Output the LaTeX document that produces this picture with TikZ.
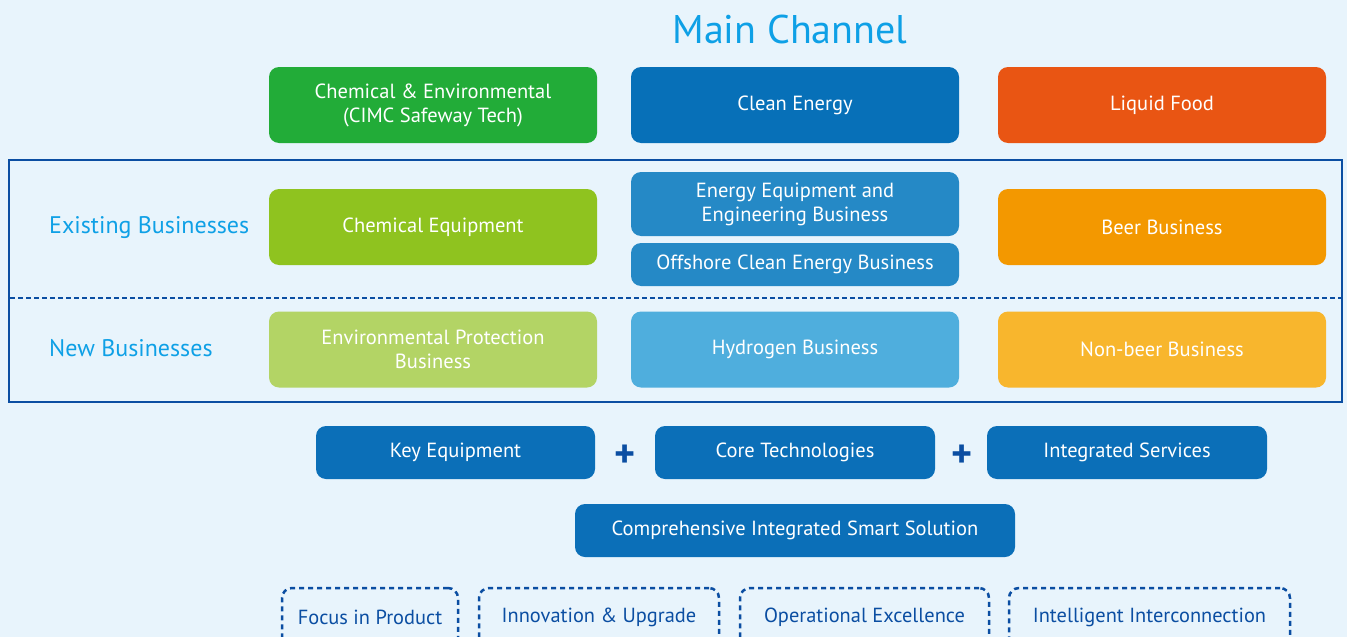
\documentclass[tikz,border=0pt]{standalone}
\usepackage{fontspec}
\setmainfont{PT Sans}
\definecolor{bg}{HTML}{E8F4FC}
\definecolor{frame}{HTML}{0B4EA2}
\definecolor{cyantxt}{HTML}{0EA0E6}
\definecolor{cgreen}{HTML}{22AC38}
\definecolor{cblue}{HTML}{0770B8}
\definecolor{corange}{HTML}{E95513}
\definecolor{egreen}{HTML}{8FC31F}
\definecolor{eblue}{HTML}{2589C6}
\definecolor{eorange}{HTML}{F39800}
\definecolor{ngreen}{HTML}{B3D465}
\definecolor{nblue}{HTML}{4FAEDD}
\definecolor{norange}{HTML}{F8B62D}
\definecolor{sblue}{HTML}{0B6FB8}
\tikzset{
  biz/.style={rounded corners=10pt, text=white, align=center, font=\fontsize{20.5}{24}\selectfont, inner sep=0pt},
  rowlabel/.style={anchor=west, text=cyantxt, font=\fontsize{24}{28}\selectfont, inner sep=0pt},
  plus/.style={text=frame, font=\fontsize{40}{40}\selectfont\bfseries, inner sep=0pt},
  valuebox/.style={draw=frame, line width=2.5pt, dash pattern=on 5pt off 4pt, rounded corners=10pt, inner sep=0pt},
  valuetext/.style={text=frame, font=\fontsize{20.4}{24}\selectfont, inner sep=0pt}
}
\begin{document}
\begin{tikzpicture}[x=1pt,y=-1pt]
\useasboundingbox (0,0) rectangle (1347,637);
\fill[bg] (0,0) rectangle (1347,637);
\clip (0,0) rectangle (1347,637);
\node[text=cyantxt, font=\fontsize{40}{44}\selectfont, inner sep=0pt] (title) at (790,29) {Main Channel};
% header row
\node[biz, fill=cgreen, minimum width=328pt, minimum height=76pt] (chem) at (433,105) {Chemical \& Environmental\\(CIMC Safeway Tech)};
\node[biz, fill=cblue, minimum width=328pt, minimum height=76pt] (clean) at (795,105) {Clean Energy};
\node[biz, fill=corange, minimum width=328pt, minimum height=76pt] (food) at (1162,105) {Liquid Food};
% frame
\draw[frame, line width=2.6pt] (9,160) rectangle (1342,402);
\coordinate (dl) at (10,298);
\coordinate (dr) at (1341,298);
\draw[frame, line width=2.8pt, dash pattern=on 4.5pt off 3.5pt] (dl) -- (dr);
\node[rowlabel] (exist) at (49,228) {Existing Businesses};
\node[rowlabel] (new) at (49,348) {New Businesses};
% existing
\node[biz, fill=egreen, minimum width=328pt, minimum height=76pt] (chemeq) at (433,227) {Chemical Equipment};
\node[biz, fill=eblue, minimum width=328pt, minimum height=64pt] (energy) at (795,204) {Energy Equipment and\\Engineering Business};
\node[biz, fill=eblue, minimum width=328pt, minimum height=43pt] (offshore) at (795,264.5) {Offshore Clean Energy Business};
\node[biz, fill=eorange, minimum width=328pt, minimum height=76pt] (beer) at (1162,227) {Beer Business};
% new
\node[biz, fill=ngreen, minimum width=328pt, minimum height=76pt] (env) at (433,349.5) {Environmental Protection\\Business};
\node[biz, fill=nblue, minimum width=328pt, minimum height=76pt] (hyd) at (795,349.5) {Hydrogen Business};
\node[biz, fill=norange, minimum width=328pt, minimum height=76pt] (nonbeer) at (1162,349.5) {Non-beer Business};
% solutions
\node[biz, fill=sblue, minimum width=279pt, minimum height=53pt] (key) at (455.5,452.5) {Key Equipment};
\node[plus] (p1) at (625,456) {+};
\node[biz, fill=sblue, minimum width=280pt, minimum height=53pt] (core) at (795,452.5) {Core Technologies};
\node[plus] (p2) at (962,456) {+};
\node[biz, fill=sblue, minimum width=280pt, minimum height=53pt] (integ) at (1127,452.5) {Integrated Services};
\node[biz, fill=sblue, minimum width=440pt, minimum height=53pt] (comp) at (795,530.5) {Comprehensive Integrated Smart Solution};
% values
\node[valuebox, minimum width=176pt, minimum height=60pt] (focus) at (370,618) {};
\node[valuetext] (focust) at (370,617) {Focus in Product};
\node[valuebox, minimum width=240pt, minimum height=60pt] (innov) at (599,618) {};
\node[valuetext] (innovt) at (599,617) {Innovation \& Upgrade};
\node[valuebox, minimum width=249pt, minimum height=60pt] (oper) at (864.5,618) {};
\node[valuetext] (opert) at (864.5,617) {Operational Excellence};
\node[valuebox, minimum width=281pt, minimum height=60pt] (intel) at (1149.5,618) {};
\node[valuetext] (intelt) at (1149.5,617) {Intelligent Interconnection};
\end{tikzpicture}
\end{document}
